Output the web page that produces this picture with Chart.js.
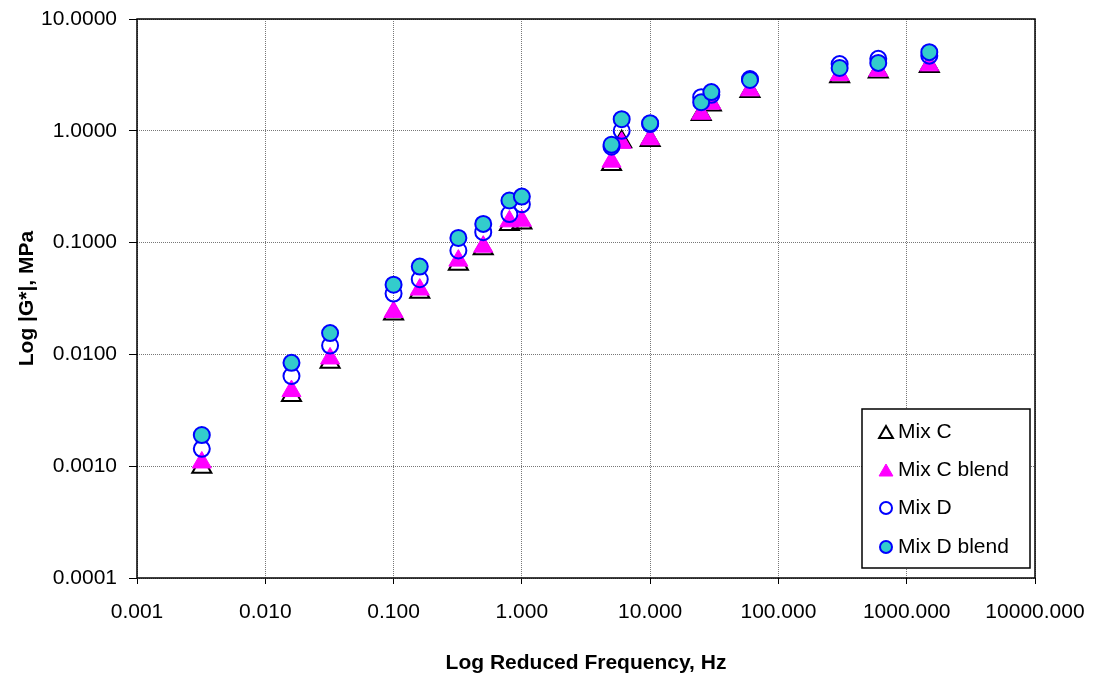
<!DOCTYPE html>
<html>
<head>
<meta charset="utf-8">
<script src="https://cdn.jsdelivr.net/npm/chart.js@4"></script>
<style>
  body { margin: 0; background: #fff; }
  #wrap { width: 1098px; height: 679px; }
</style>
</head>
<body>
<div id="wrap"><canvas id="chart" width="1098" height="679"></canvas></div>
<script>
const freq = [0.0032, 0.016, 0.032, 0.1, 0.16, 0.32, 0.5, 0.8, 1, 5, 6, 10, 25, 30, 60, 300, 600, 1500];
const mixC = [0.00098, 0.0043, 0.0085, 0.023, 0.036, 0.064, 0.088, 0.145, 0.150, 0.50, 0.80, 0.82, 1.40, 1.70, 2.25, 3.05, 3.35, 3.75];
const mixCBlend = [0.00108, 0.0047, 0.0092, 0.024, 0.038, 0.069, 0.092, 0.155, 0.157, 0.53, 0.78, 0.84, 1.42, 1.75, 2.30, 3.15, 3.45, 3.85];
const mixD = [0.00143, 0.0064, 0.0120, 0.035, 0.047, 0.085, 0.124, 0.180, 0.220, 0.72, 1.00, 1.15, 2.00, 2.10, 2.90, 3.95, 4.40, 4.70];
const mixDBlend = [0.0019, 0.0084, 0.0155, 0.042, 0.061, 0.110, 0.147, 0.238, 0.258, 0.75, 1.27, 1.17, 1.80, 2.22, 2.85, 3.65, 4.05, 5.05];

const xTicks = [0.001, 0.01, 0.1, 1, 10, 100, 1000, 10000];
const xTickLabels = ['0.001', '0.010', '0.100', '1.000', '10.000', '100.000', '1000.000', '10000.000'];
const yTicks = [0.0001, 0.001, 0.01, 0.1, 1, 10];
const yTickLabels = ['0.0001', '0.0010', '0.0100', '0.1000', '1.0000', '10.0000'];

const FONT = 'Liberation Sans, Arial, sans-serif';

function pts(ys) {
  return freq.map((f, i) => ({ x: f, y: ys[i] }));
}

const datasets = [
  { label: 'Mix C', data: pts(mixC), pointStyle: 'triangle', pointRadius: 11,
    backgroundColor: 'rgba(0,0,0,0)', borderColor: '#000000', borderWidth: 2, order: 4,
    legendRadius: 8 },
  { label: 'Mix C blend', data: pts(mixCBlend), pointStyle: 'triangle', pointRadius: 11,
    backgroundColor: '#FF00FF', borderColor: '#FF00FF', borderWidth: 1, order: 3,
    legendRadius: 8 },
  { label: 'Mix D', data: pts(mixD), pointStyle: 'circle', pointRadius: 8,
    backgroundColor: 'rgba(0,0,0,0)', borderColor: '#0000FF', borderWidth: 2, order: 2,
    legendRadius: 6 },
  { label: 'Mix D blend', data: pts(mixDBlend), pointStyle: 'circle', pointRadius: 8,
    backgroundColor: '#33CCCC', borderColor: '#0000FF', borderWidth: 2, order: 1,
    legendRadius: 6 }
];

// frame round the plot area
const framePlugin = {
  id: 'frame',
  beforeDatasetsDraw(chart) {
    const { ctx, chartArea: a } = chart;
    ctx.save();
    ctx.strokeStyle = '#000';
    ctx.lineWidth = 1.5;
    ctx.strokeRect(a.left, a.top, a.right - a.left, a.bottom - a.top);
    ctx.restore();
  }
};

// legend box inside the plot, lower right
const legendPlugin = {
  id: 'boxLegend',
  afterDraw(chart) {
    const ctx = chart.ctx;
    const box = { x: 862, y: 409, w: 168, h: 159 };
    ctx.save();
    ctx.fillStyle = '#fff';
    ctx.fillRect(box.x, box.y, box.w, box.h);
    ctx.strokeStyle = '#000';
    ctx.lineWidth = 1.5;
    ctx.strokeRect(box.x, box.y, box.w, box.h);
    const rows = [432, 470, 508, 547];
    chart.data.datasets.forEach((ds, i) => {
      ctx.fillStyle = ds.backgroundColor;
      ctx.strokeStyle = ds.borderColor;
      ctx.lineWidth = ds.borderWidth;
      Chart.helpers.drawPoint(ctx, {
        pointStyle: ds.pointStyle, radius: ds.legendRadius, rotation: 0, borderWidth: ds.borderWidth
      }, 886, rows[i] + (ds.pointStyle === 'triangle' ? 2 : 0));
      ctx.fillStyle = '#000';
      ctx.font = '21px ' + FONT;
      ctx.textBaseline = 'middle';
      ctx.textAlign = 'left';
      ctx.fillText(ds.label, 898, rows[i]);
    });
    ctx.restore();
  }
};

new Chart(document.getElementById('chart'), {
  type: 'scatter',
  data: { datasets },
  plugins: [framePlugin, legendPlugin],
  options: {
    responsive: false,
    animation: false,
    layout: { padding: { left: 0, top: 19, right: 63, bottom: 0 } },
    plugins: { legend: { display: false }, tooltip: { enabled: false } },
    scales: {
      x: {
        type: 'logarithmic',
        min: 0.001,
        max: 10000,
        afterBuildTicks: (s) => { s.ticks = xTicks.map(v => ({ value: v })); },
        afterFit: (s) => { s.height = 101; s.paddingLeft = 0; s.paddingRight = 0; },
        ticks: {
          autoSkip: false, maxRotation: 0, padding: 16, color: '#000',
          font: { family: FONT, size: 21 },
          callback: (v, i) => xTickLabels[i]
        },
        grid: { color: '#777', lineWidth: 1, tickLength: 6, tickColor: '#000', tickBorderDash: [] },
        border: { display: false, dash: [1, 1] },
        title: {
          display: true, text: 'Log Reduced Frequency, Hz', color: '#000',
          font: { family: FONT, size: 21, weight: 'bold' },
          padding: { top: 0, bottom: 3 }
        }
      },
      y: {
        type: 'logarithmic',
        min: 0.0001,
        max: 10,
        afterBuildTicks: (s) => { s.ticks = yTicks.map(v => ({ value: v })); },
        afterFit: (s) => { s.width = 137; s.paddingTop = 0; s.paddingBottom = 0; },
        ticks: {
          autoSkip: false, padding: 12, color: '#000',
          font: { family: FONT, size: 21 },
          callback: (v, i) => yTickLabels[i]
        },
        grid: { color: '#777', lineWidth: 1, tickLength: 8, tickColor: '#000', tickBorderDash: [] },
        border: { display: false, dash: [1, 1] },
        title: {
          display: true, text: 'Log |G*|, MPa', color: '#000',
          font: { family: FONT, size: 21, weight: 'bold' },
          padding: { top: 15, bottom: 0 }
        }
      }
    }
  }
});
</script>
</body>
</html>
